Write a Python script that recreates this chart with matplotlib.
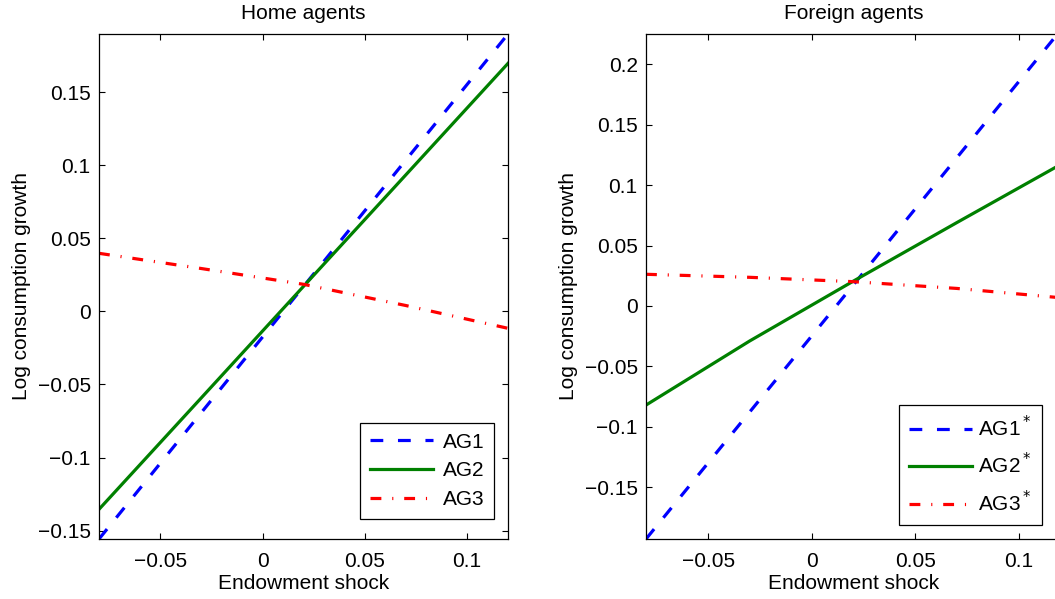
import matplotlib
matplotlib.use("Agg")
import matplotlib.pyplot as plt
from matplotlib.ticker import FixedLocator, FuncFormatter

plt.rcParams['font.family'] = ['Liberation Sans', 'DejaVu Sans']
plt.rcParams['font.size'] = 15

# ---- data ----
x = [-0.08, -0.03, 0.02, 0.07, 0.12]

home_ag1 = [-0.1557, -0.0693, 0.0170, 0.1034, 0.1897]
home_ag2 = [-0.1354, -0.0592, 0.0171, 0.0933, 0.1696]
home_ag3 = [0.0397, 0.0293, 0.0185, 0.0040, -0.0116]

for_ag1 = [-0.1928, -0.0878, 0.0173, 0.1227, 0.2280]
for_ag2 = [-0.0820, -0.0290, 0.0205, 0.0690, 0.1170]
for_ag3 = [0.0262, 0.0237, 0.0201, 0.0145, 0.0068]

home_labels = ['AG1', 'AG2', 'AG3']
for_labels = ['AG1$^*$', 'AG2$^*$', 'AG3$^*$']

xticks = [-0.05, 0, 0.05, 0.1]
home_yticks = [-0.15, -0.1, -0.05, 0, 0.05, 0.1, 0.15]
for_yticks = [-0.15, -0.1, -0.05, 0, 0.05, 0.1, 0.15, 0.2]

home_ylim = (-0.1557, 0.1897)
for_ylim = (-0.1928, 0.2250)
xlim = (-0.08, 0.12)

fig = plt.figure(figsize=(10.55, 5.99), dpi=100)
ax1 = fig.add_axes([99/1055, 60/599, 409/1055, 505/599])
ax2 = fig.add_axes([646/1055, 60/599, 414.5/1055, 505/599])

fmt = FuncFormatter(lambda v, p: ('%g' % round(v, 4)).replace('-', '\u2212'))

def draw(ax, a1, a2, a3, labels, yticks, ylim, title, spacing, textpad):
    lw = 2.3
    ax.plot(x, a1, color=(0, 0, 1), lw=lw, dashes=(4.0, 4.6), dash_capstyle='butt', label=labels[0])
    ax.plot(x, a2, color=(0, 0.5, 0), lw=lw, label=labels[1])
    ax.plot(x, a3, color=(1, 0, 0), lw=lw, dashes=(3.4, 3.4, 0.35, 3.4), dash_capstyle='butt', label=labels[2])
    ax.set_xlim(*xlim)
    ax.set_ylim(*ylim)
    ax.xaxis.set_major_locator(FixedLocator(xticks))
    ax.yaxis.set_major_locator(FixedLocator(yticks))
    ax.xaxis.set_major_formatter(fmt)
    ax.yaxis.set_major_formatter(fmt)
    ax.tick_params(direction='in', top=True, right=True, length=4, width=0.8, labelsize=15)
    ax.tick_params(axis='x', pad=9.5)
    ax.tick_params(axis='y', pad=6)
    for s in ax.spines.values():
        s.set_linewidth(0.9)
    ax.set_title(title, fontsize=15, pad=11)
    ax.set_xlabel('Endowment shock', fontsize=15, labelpad=2)
    ax.set_ylabel('Log consumption growth', fontsize=15, labelpad=5)
    leg = ax.legend(loc='lower right', fancybox=False, framealpha=1,
                    edgecolor='black', handlelength=3.05, fontsize=15, borderpad=0.47,
                    labelspacing=spacing, handletextpad=textpad, borderaxespad=0)
    leg.get_frame().set_linewidth(0.9)
    return leg

l1 = draw(ax1, home_ag1, home_ag2, home_ag3, home_labels, home_yticks, home_ylim, 'Home agents', 0.47, 0.45)
l2 = draw(ax2, for_ag1, for_ag2, for_ag3, for_labels, for_yticks, for_ylim, 'Foreign agents', 0.6, 0.3)
l1.set_bbox_to_anchor((494/1055, 80/599), transform=fig.transFigure)
l2.set_bbox_to_anchor((1042/1055, 74/599), transform=fig.transFigure)

fig.savefig('out.png', dpi=100)
